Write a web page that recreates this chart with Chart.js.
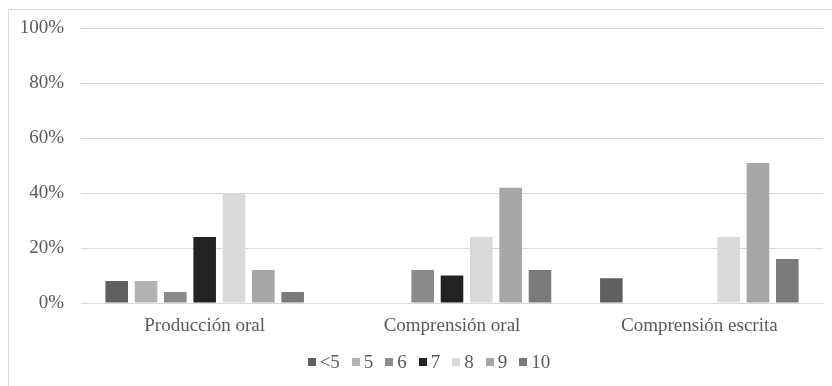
<!DOCTYPE html>
<html>
<head>
<meta charset="utf-8">
<script src="https://cdn.jsdelivr.net/npm/chart.js@4/dist/chart.umd.min.js"></script>
<style>
  html, body { margin: 0; padding: 0; background: #ffffff; }
  #wrap { position: relative; width: 832px; height: 386px; overflow: hidden; }
  #frame { position: absolute; left: 8px; top: 9px; width: 842px; height: 400px;
           border: 1px solid #d9d9d9; box-sizing: border-box; }
  canvas { position: absolute; left: 0; top: 0; }
</style>
</head>
<body>
<div id="wrap">
  <div id="frame"></div>
  <canvas id="c" width="832" height="386"></canvas>
</div>
<script>
// Skills assessed
const categories = ['Producción oral', 'Comprensión oral', 'Comprensión escrita'];

// Grade bands (legend)
const grades = ['<5', '5', '6', '7', '8', '9', '10'];

// Share of students per grade band, in %, one array per band
const gradeLt5 = [8, 0, 9];
const grade5   = [8, 0, 0];
const grade6   = [4, 12, 0];
const grade7   = [24, 10, 0];
const grade8   = [40, 24, 24];
const grade9   = [12, 42, 51];
const grade10  = [4, 12, 16];

// Y axis tick values
const yTicks = [0, 20, 40, 60, 80, 100];

const seriesValues = [gradeLt5, grade5, grade6, grade7, grade8, grade9, grade10];
const seriesColors = ['#606060', '#b2b2b2', '#8a8a8a', '#222222', '#d9d9d9', '#a6a6a6', '#7a7a7a'];

const FONT = "'Liberation Serif', 'Times New Roman', serif";
const FONT_SIZE = 19;
const TEXT = '#595959';

// Compact legend row under the axis: small square, short gap, label.
const compactLegend = {
  id: 'compactLegend',
  afterDraw(chart, args, opts) {
    const ctx = chart.ctx;
    const box = 8, gapText = 4, gapItem = 12;
    ctx.save();
    ctx.font = FONT_SIZE + 'px ' + FONT;
    const items = chart.data.datasets.map(ds => ({
      text: ds.label, color: ds.backgroundColor, w: ctx.measureText(ds.label).width
    }));
    const total = items.reduce((s, it) => s + box + gapText + it.w, 0) + gapItem * (items.length - 1);
    let x = opts.centerX - total / 2;
    const y = opts.centerY;
    ctx.textBaseline = 'middle';
    ctx.textAlign = 'left';
    items.forEach(it => {
      ctx.fillStyle = it.color;
      ctx.fillRect(Math.round(x), Math.round(y - box / 2), box, box);
      ctx.fillStyle = TEXT;
      ctx.fillText(it.text, x + box + gapText, y + 1);
      x += box + gapText + it.w + gapItem;
    });
    ctx.restore();
  }
};

new Chart(document.getElementById('c'), {
  type: 'bar',
  data: {
    labels: categories,
    datasets: grades.map((g, i) => ({
      label: g,
      data: seriesValues[i],
      backgroundColor: seriesColors[i],
      borderWidth: 0,
      categoryPercentage: 0.83,
      barPercentage: 0.77
    }))
  },
  options: {
    responsive: false,
    animation: false,
    devicePixelRatio: 1,
    layout: { padding: { left: 0, right: 9, top: 23, bottom: 43 } },
    plugins: {
      tooltip: { enabled: false },
      legend: { display: false },
      compactLegend: { centerX: 429, centerY: 362 }
    },
    scales: {
      x: {
        grid: { display: false, drawTicks: false },
        border: { display: true, color: '#d9d9d9', width: 1 },
        ticks: { color: TEXT, font: { family: FONT, size: FONT_SIZE }, padding: 12 },
        afterFit: (s) => { s.height = 40; }
      },
      y: {
        min: 0,
        max: 100,
        afterBuildTicks: (s) => { s.ticks = yTicks.map(v => ({ value: v })); },
        grid: { color: '#d9d9d9', drawTicks: false },
        border: { display: false },
        ticks: {
          color: TEXT,
          font: { family: FONT, size: FONT_SIZE },
          padding: 17,
          callback: (v) => v + '%'
        },
        afterFit: (s) => { s.width = 81; }
      }
    }
  },
  plugins: [compactLegend]
});
</script>
</body>
</html>
